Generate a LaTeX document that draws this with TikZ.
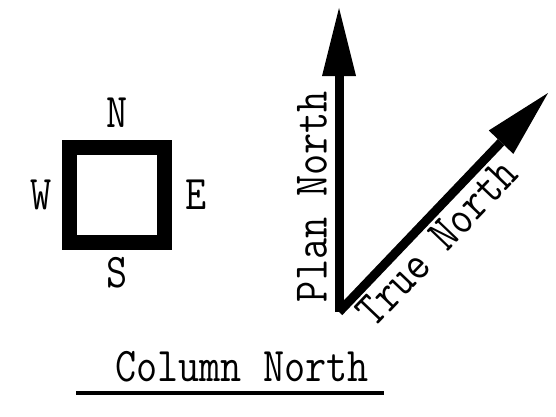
\documentclass[tikz,border=0pt]{standalone}
\usepackage{fontspec}
\usetikzlibrary{arrows.meta, positioning}

\newcommand{\tallbox}[1]{\scalebox{1}[1.18]{#1}}

\begin{document}
\begin{tikzpicture}[x=1pt, y=1pt,
    font=\fontsize{41}{41}\selectfont\ttfamily,
    colbox/.style={draw, line width=15pt, minimum size=95pt, inner sep=0pt},
    dirlbl/.style={inner sep=0pt, outer sep=0pt},
    northarr/.style={line width=9pt,
      -{Triangle[length=68pt, width=34pt, line width=0pt]}}
  ]
  \useasboundingbox (0,0) rectangle (556,416);

  % column with its faces
  \node[colbox] (col) at (117,221.5) {};
  \node[dirlbl, above=12pt of col] (n) {\tallbox{N}};
  \node[dirlbl, below=8pt of col] (s) {\tallbox{S}};
  \node[dirlbl, left=10pt of col] (w) {\tallbox{W}};
  \node[dirlbl, right=13pt of col] (e) {\tallbox{E}};

  % north arrows
  \coordinate (o) at (339,104);
  \coordinate (plan) at (339,408);
  \coordinate (true) at (548,323);
  \draw[northarr] (o) -- (plan)
    node[dirlbl, pos=0.38, sloped, above=12pt] (plan-lbl) {\tallbox{Plan North}};
  \draw[northarr] (o) -- (true)
    node[dirlbl, pos=0.39, sloped, below=8pt] (true-lbl) {\tallbox{True North}};

  % column north
  \node[dirlbl] (coln) at (242,49) {\tallbox{Column North}};
  \coordinate (ul-a) at (76,23.5);
  \coordinate (ul-b) at (384,23.5);
  \draw[line width=4pt] (ul-a) -- (ul-b);
\end{tikzpicture}
\end{document}
